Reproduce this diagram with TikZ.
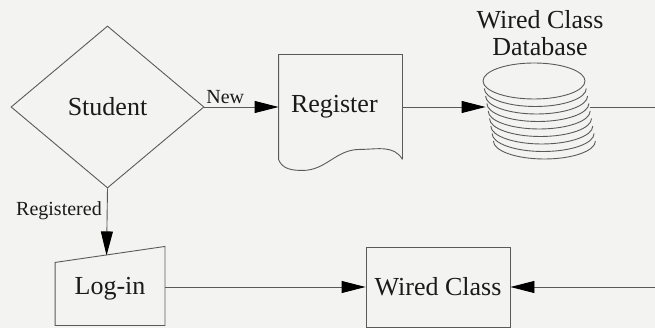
\documentclass[tikz,border=0pt]{standalone}
\usepackage{fontspec}
\setmainfont{Liberation Serif}
\newfontfamily\wcserif{Liberation Serif}
\usepackage{xcolor}
\usepackage{tikz}
\usetikzlibrary{arrows.meta,positioning,shapes.geometric,calc}
\definecolor{wcPaper}{HTML}{F3F3F1}
\definecolor{wcLine}{HTML}{5A5A5A}
\definecolor{wcInk}{HTML}{1A1A1A}

\begin{document}
\begin{tikzpicture}[x=1pt, y=-1pt,
    line width=0.9pt, draw=wcLine,
    txt/.style={font=\wcserif\fontsize{26}{27}\selectfont, text=wcInk},
    dec/.style={diamond, draw=wcLine, inner sep=0pt, txt,
                minimum width=193pt, minimum height=162pt},
    box/.style={draw=wcLine, inner sep=0pt, txt,
                minimum width=144pt, minimum height=80pt},
    hull/.style={inner sep=0pt, txt},
    lbl/.style={font=\wcserif\fontsize{20}{22}\selectfont, text=wcInk},
    arr/.style={-{Triangle[length=24pt, width=12pt, color=black]}, draw=wcLine}]

    \fill[wcPaper] (0,0) rectangle (655,328);
    \useasboundingbox (0,0) rectangle (655,328);

    \node[dec] (st) at (107.5,107) {Student};
    \node[hull, minimum width=123pt, minimum height=104pt,
          text width=99pt, align=left, inner xsep=12pt] (reg) at (340.5,107) {Register};
    \node[hull, minimum width=104pt, minimum height=88pt] (db) at (538,107) {};
    \node[hull, align=center] (dbtitle) at (540,33) {Wired Class\\Database};
    \node[hull, minimum width=109pt, minimum height=72pt] (login) at (110,289) {Log-in};
    \node[box] (wc) at (438,287) {Wired Class};

    \coordinate (lgin) at ($(login.south west)+(51.5,-70)$);
    \coordinate (edgeA) at (655,107);
    \coordinate (edgeB) at (655,287);

    % document shape
    \draw (reg.south east) -- (reg.north east) -- (reg.north west) -- (reg.south west)
        to[out=-70,in=180] ++(24,11) to[out=0,in=180] ++(57,-21)
        to[out=0,in=120] (reg.south east);

    % manual input
    \draw (login.south west) -- ++(0,-63) -- ($(login.south east)+(0,-79)$)
        -- (login.south east) -- cycle;

    % stacked disks
    \foreach \i in {8,7,...,1}
        \draw ($(db.center)+(-4+1.3*\i,-26+7.5*\i)$) ++(-51,0)
            arc[start angle=180, end angle=0, x radius=51, y radius=18];
    \draw ($(db.center)+(-4,-26)$) ellipse [x radius=51, y radius=18];

    \draw[arr] (st) -- node[lbl, above, pos=0.28, inner sep=3pt]{New} (reg);
    \draw[arr] (reg) -- (db);
    \draw (db.east) -- (edgeA);
    \draw[arr] (st.south) -- node[lbl, left, pos=0.33, inner sep=5pt]{Registered} (lgin);
    \draw[arr] (login.east |- wc.west) -- (wc);
    \draw[arr] (edgeB) -- (wc);
\end{tikzpicture}
\end{document}
